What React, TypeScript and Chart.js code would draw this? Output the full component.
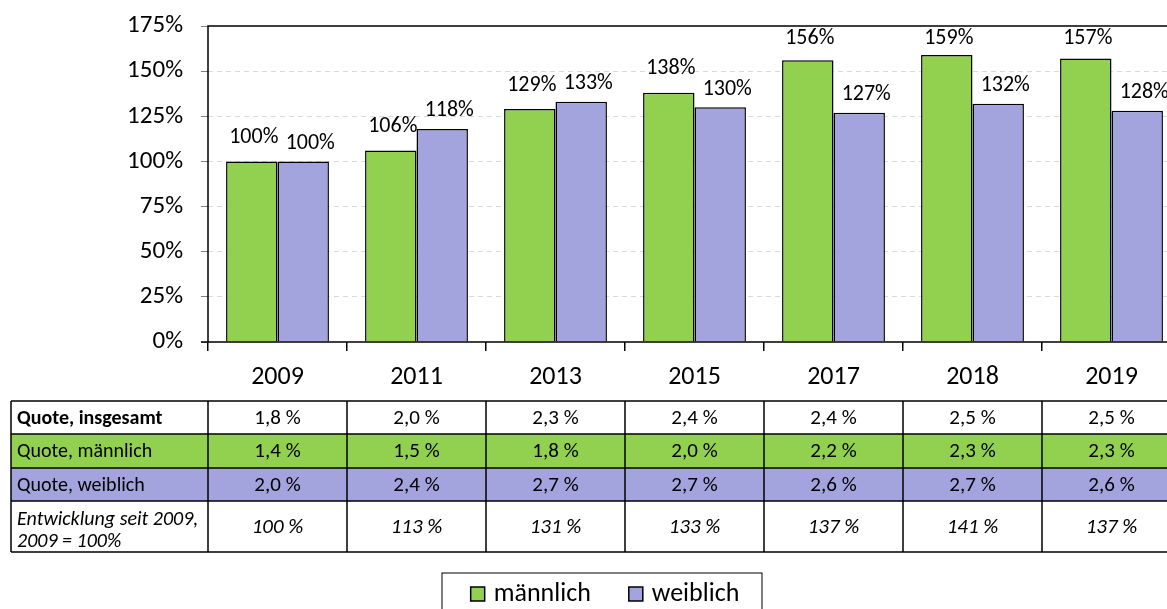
import React, { useEffect, useRef } from "react";
import { Chart, registerables } from "chart.js";

Chart.register(...registerables);

const categories = ["2009", "2011", "2013", "2015", "2017", "2018", "2019"];
const maleIndex = [100, 106, 129, 138, 156, 159, 157];
const femaleIndex = [100, 118, 133, 130, 127, 132, 128];
const quoteTotal = [1.8, 2.0, 2.3, 2.4, 2.4, 2.5, 2.5];
const quoteMale = [1.4, 1.5, 1.8, 2.0, 2.2, 2.3, 2.3];
const quoteFemale = [2.0, 2.4, 2.7, 2.7, 2.6, 2.7, 2.6];
const development = [100, 113, 131, 133, 137, 141, 137];
const seriesLabels = ["männlich", "weiblich"];
const rowLabels = [["Quote, insgesamt"], ["Quote, männlich"], ["Quote, weiblich"], ["Entwicklung seit 2009,", "2009 = 100%"]];
const yMax = 175;
const yStep = 25;

const GREEN = "#92D050";
const PURPLE = "#A3A3DE";
const FONT = "Carlito, Calibri, Lato, sans-serif";

const fmtQuote = (v: number) => v.toFixed(1).replace(".", ",") + " %";

const W = 1200;
const H = 640;

const labelPlugin = {
  id: "barLabels",
  afterDatasetsDraw(chart: any) {
    const { ctx, chartArea } = chart;
    ctx.save();
    ctx.font = `22px ${FONT}`;
    ctx.fillStyle = "#000";
    ctx.textAlign = "center";
    ctx.textBaseline = "middle";
    const offsets = [24, 18];
    const shifts = [2, 7];
    chart.data.datasets.forEach((ds: any, di: number) => {
      const meta = chart.getDatasetMeta(di);
      meta.data.forEach((el: any, i: number) => {
        let y = el.y - offsets[di];
        if (y < chartArea.top + 12) y = chartArea.top + 12;
        ctx.fillText(ds.data[i] + "%", el.x + shifts[di], y);
      });
    });
    ctx.restore();
  },
};

const framePlugin = {
  id: "frame",
  afterDatasetsDraw(chart: any) {
    const { ctx, chartArea } = chart;
    ctx.save();
    ctx.strokeStyle = "#000";
    ctx.lineWidth = 1.5;
    ctx.beginPath();
    ctx.moveTo(chartArea.left, chartArea.bottom);
    ctx.lineTo(chartArea.left, chartArea.top);
    ctx.lineTo(chartArea.right, chartArea.top);
    ctx.lineTo(chartArea.right, chartArea.bottom);
    ctx.lineTo(chartArea.left - 7, chartArea.bottom);
    ctx.stroke();
    ctx.restore();
  },
};

const tablePlugin = {
  id: "dataTable",
  afterDraw(chart: any) {
    const { ctx, chartArea } = chart;
    const xs = chart.scales.x;
    const n = categories.length;
    const catW = (chartArea.right - chartArea.left) / n;
    const tableLeft = 11;
    const top = chartArea.bottom + 59;
    const heights = [33, 34, 33, 51];
    const rows = [
      { bg: "#fff", font: `bold 20px ${FONT}`, vfont: `21px ${FONT}`, values: quoteTotal.map(fmtQuote) },
      { bg: GREEN, font: `20px ${FONT}`, vfont: `21px ${FONT}`, values: quoteMale.map(fmtQuote) },
      { bg: PURPLE, font: `20px ${FONT}`, vfont: `21px ${FONT}`, values: quoteFemale.map(fmtQuote) },
      { bg: "#fff", font: `italic 20px ${FONT}`, vfont: `italic 21px ${FONT}`, values: development.map((v) => v + " %") },
    ];
    ctx.save();
    let y = top;
    rows.forEach((row, ri) => {
      const h = heights[ri];
      ctx.fillStyle = row.bg;
      ctx.fillRect(tableLeft, y, chartArea.right - tableLeft, h);
      ctx.fillStyle = "#000";
      ctx.textBaseline = "middle";
      ctx.textAlign = "left";
      ctx.font = row.font;
      const lines = rowLabels[ri];
      if (lines.length === 1) {
        ctx.fillText(lines[0], tableLeft + 6, y + h / 2 + 1);
      } else {
        ctx.fillText(lines[0], tableLeft + 6, y + h / 2 - 7);
        ctx.fillText(lines[1], tableLeft + 6, y + h / 2 + 15);
      }
      ctx.textAlign = "center";
      ctx.font = row.vfont;
      row.values.forEach((v, i) => {
        ctx.fillText(v, xs.getPixelForValue(i), y + h / 2 + 1);
      });
      y += h;
    });
    // grid lines
    ctx.strokeStyle = "#000";
    ctx.lineWidth = 1.5;
    ctx.beginPath();
    let yy = top;
    ctx.moveTo(tableLeft, yy);
    ctx.lineTo(chartArea.right, yy);
    heights.forEach((h) => {
      yy += h;
      ctx.moveTo(tableLeft, yy);
      ctx.lineTo(chartArea.right, yy);
    });
    ctx.moveTo(tableLeft, top);
    ctx.lineTo(tableLeft, yy);
    for (let i = 0; i <= n; i++) {
      const x = chartArea.left + i * catW;
      ctx.moveTo(x, top);
      ctx.lineTo(x, yy);
    }
    ctx.stroke();

    // legend
    const colors = [GREEN, PURPLE];
    ctx.font = `26px ${FONT}`;
    const sq = 14;
    const gap = 9;
    const spacing = 38;
    const widths = seriesLabels.map((t) => ctx.measureText(t).width);
    const content = widths.reduce((a, w) => a + sq + gap + w, 0) + spacing;
    const boxW = 320;
    const boxCx = 602;
    const boxTop = yy + 21;
    ctx.lineWidth = 1;
    ctx.strokeRect(boxCx - boxW / 2, boxTop, boxW, 45);
    let lx = boxCx - content / 2 + 3;
    const ly = boxTop + 21;
    seriesLabels.forEach((t, i) => {
      ctx.fillStyle = colors[i];
      ctx.fillRect(lx, ly - sq / 2, sq, sq);
      ctx.lineWidth = 1.5;
      ctx.strokeRect(lx, ly - sq / 2, sq, sq);
      ctx.fillStyle = "#000";
      ctx.textAlign = "left";
      ctx.textBaseline = "middle";
      ctx.fillText(t, lx + sq + gap, ly);
      lx += sq + gap + widths[i] + spacing;
    });
    ctx.restore();
  },
};

export default function App() {
  const ref = useRef<HTMLCanvasElement | null>(null);
  useEffect(() => {
    document.body.style.overflow = "hidden";
    const canvas = ref.current;
    if (!canvas) return;
    const chart = new Chart(canvas, {
      type: "bar",
      data: {
        labels: categories,
        datasets: [
          {
            label: seriesLabels[0],
            data: maleIndex,
            backgroundColor: GREEN,
            borderColor: "#000",
            borderWidth: 1.5,
            categoryPercentage: 0.74,
            barPercentage: 1,
          },
          {
            label: seriesLabels[1],
            data: femaleIndex,
            backgroundColor: PURPLE,
            borderColor: "#000",
            borderWidth: 1.5,
            categoryPercentage: 0.74,
            barPercentage: 1,
          },
        ],
      },
      options: {
        responsive: false,
        animation: false,
        layout: { padding: { left: 0, top: 26, right: 19, bottom: 248 } },
        plugins: { legend: { display: false }, tooltip: { enabled: false } },
        scales: {
          x: {
            afterFit: (s: any) => {
              s.height = 50;
            },
            grid: {
              display: true,
              drawOnChartArea: false,
              offset: true,
              tickLength: 9,
              color: "#000",
              lineWidth: 1.5,
            },
            border: { display: false },
            ticks: { color: "#000", font: { family: FONT, size: 26 }, padding: 11 },
          },
          y: {
            min: 0,
            max: yMax,
            afterFit: (s: any) => {
              s.width = 208;
              s.paddingTop = 10;
              s.paddingBottom = 10;
            },
            grid: {
              color: (c: any) => (c.tick && (c.tick.value === 0 || c.tick.value === yMax) ? "rgba(0,0,0,0)" : "#D9D9D9"),
              tickColor: "#808080",
              tickLength: 7,
              tickBorderDash: [],
              lineWidth: 1,
            },
            border: { display: false, dash: [5, 4] },
            ticks: {
              stepSize: yStep,
              color: "#000",
              font: { family: FONT, size: 25 },
              padding: 18,
              callback: (v: any) => v + "%",
            },
          },
        },
      },
      plugins: [framePlugin, labelPlugin, tablePlugin],
    });
    return () => chart.destroy();
  }, []);
  return (
    <div style={{ position: "fixed", left: 0, top: 0, width: W, height: H, background: "#fff" }}>
      <canvas ref={ref} width={W} height={H} style={{ width: W, height: H, display: "block" }} />
    </div>
  );
}
